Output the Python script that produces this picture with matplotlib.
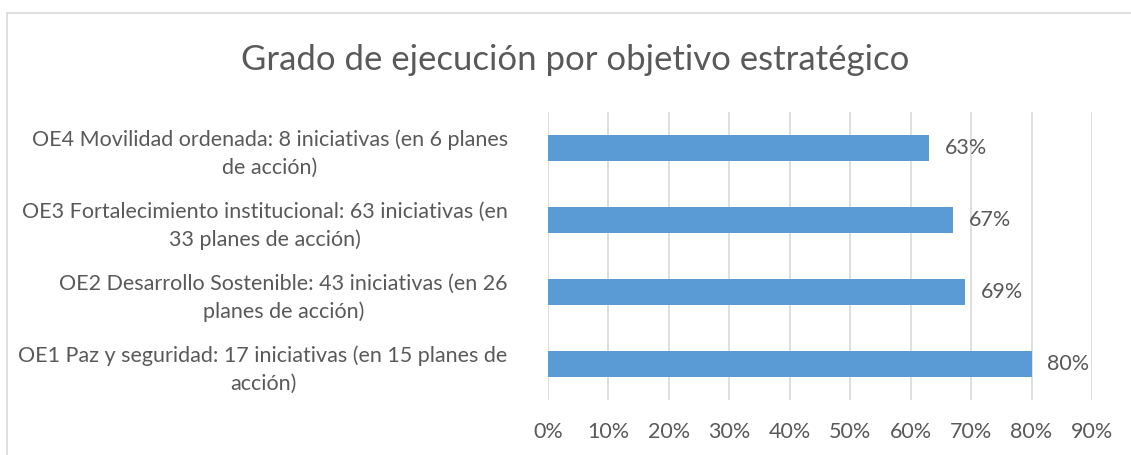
import matplotlib.pyplot as plt
from matplotlib.patches import Rectangle

# Data
labels = [
    "OE1 Paz y seguridad: 17 iniciativas (en 15 planes de\nacción)",
    "OE2 Desarrollo Sostenible: 43 iniciativas (en 26\nplanes de acción)",
    "OE3 Fortalecimiento institucional: 63 iniciativas (en\n33 planes de acción)",
    "OE4 Movilidad ordenada: 8 iniciativas (en 6 planes\nde acción)",
]
values = [80, 69, 67, 63]
xticks = [0, 10, 20, 30, 40, 50, 60, 70, 80, 90]

text_color = "#595959"
bar_color = "#5B9BD5"
grid_color = "#D9D9D9"
fs = 15.5

plt.rcParams['font.family'] = ['Lato', 'DejaVu Sans']

fig = plt.figure(figsize=(11.31, 4.55), dpi=100)
W, H = 1131, 455
ax = fig.add_axes([548 / W, 1 - 400 / H, (1092 - 548) / W, (400 - 112) / H])

# chart border
fig.patches.append(Rectangle((7 / W, -0.1), 1.2, 1.1 - 13 / H, transform=fig.transFigure,
                             fill=False, edgecolor=grid_color, linewidth=1.2))

y = range(len(labels))
ax.barh(y, values, height=0.35, color=bar_color, zorder=3)
for i, v in enumerate(values):
    ax.text(v + 2.6, i, f"{v}%", va='center', ha='left', fontsize=fs, color=text_color)

ax.set_xlim(0, 90)
ax.set_ylim(-0.5, len(labels) - 0.5)
ax.set_xticks(xticks)
ax.set_xticklabels([f"{t}%" for t in xticks])
ax.set_yticks(list(y))
ax.set_yticklabels(labels, linespacing=1.45)
for lab in ax.get_yticklabels():
    lab.set_multialignment('center')
ax.tick_params(axis='both', length=0, labelsize=fs, labelcolor=text_color)
ax.tick_params(axis='y', pad=29)
ax.tick_params(axis='x', pad=16)
ax.grid(axis='x', color=grid_color, linewidth=1.2, zorder=0)
for s in ax.spines.values():
    s.set_visible(False)

fig.text(575 / W, 1 - 60 / H, "Grado de ejecución por objetivo estratégico",
         ha='center', va='center', fontsize=25, color=text_color)

fig.savefig("out.png", dpi=100)
